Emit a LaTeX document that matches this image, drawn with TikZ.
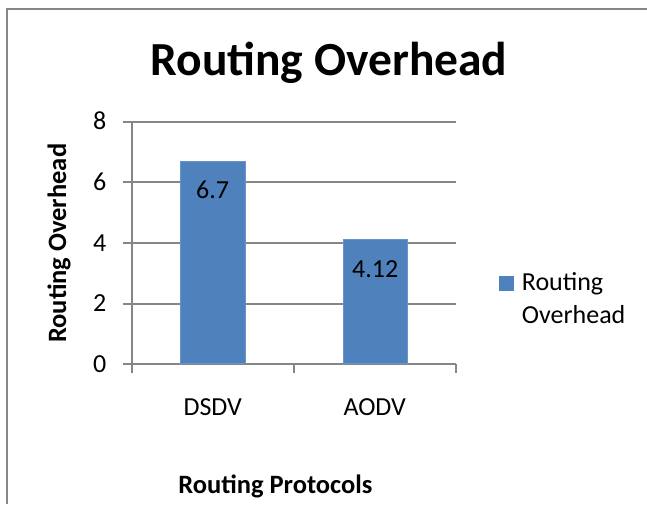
\documentclass[tikz,border=0pt]{standalone}
\usepackage{fontspec}
\setmainfont{Carlito}
\usepackage{xcolor}
\definecolor{barblue}{HTML}{4F81BD}
\definecolor{gridgray}{HTML}{868686}
\definecolor{framegray}{HTML}{878787}

\begin{document}
\begin{tikzpicture}[x=1pt,y=-1pt]
    \tikzstyle{gridline} = [draw=gridgray,line width=2pt]
    \tikzstyle{barbox} = [fill=barblue,draw=barblue!85!white,line width=1pt]
    \tikzstyle{lab} = [inner sep=0pt,font=\fontsize{26}{31}\selectfont]
    \tikzstyle{ttl} = [inner sep=0pt,font=\bfseries\fontsize{26.5}{32}\selectfont]
    \useasboundingbox (0,0) rectangle (647,504);
    % chart frame
    \draw [framegray,line width=2.5pt] (7,504) -- (7,9) -- (647,9);
    \node [inner sep=0pt,anchor=base,font=\bfseries\fontsize{47.5}{57}\selectfont] (title) at (329,75) {Routing Overhead};
    % grid and ticks
    \foreach \v in {2,4,6,8}
      \draw [gridline] (122.7,{364.3-30.33*\v}) -- (455.7,{364.3-30.33*\v});
    \foreach \v in {0,2,4,6,8}
      \node [lab,anchor=base east] (t\v) at (106.5,{364.3-30.33*\v+8.2}) {\v};
    \draw [gridline] (131.7,121.7) -- (131.7,372.7);
    \draw [gridline] (122.7,364.3) -- (455.7,364.3);
    \foreach \x in {293.7,455.7}
      \draw [gridline] (\x,364.3) -- (\x,372.7);
    % bars
    \draw [barbox] (180.7,363.3) rectangle (245,{364.3-30.33*6.7});
    \draw [barbox] (343.3,363.3) rectangle (407.7,{364.3-30.33*4.12});
    \node [lab,anchor=base] (d1) at (212.7,198.3) {6.7};
    \node [lab,anchor=base] (d2) at (375.2,277.3) {4.12};
    \node [lab,anchor=base] (c1) at (212.7,415) {DSDV};
    \node [lab,anchor=base] (c2) at (374.7,415) {AODV};
    % axis titles
    \node [ttl,rotate=90] (ytitle) at (59,243.3) {Routing Overhead};
    \node [ttl,anchor=base] (xtitle) at (275.4,493.3) {Routing Protocols};
    % legend
    \node [fill=barblue,inner sep=0pt,minimum size=14.5pt] (key) at (506.7,283.7) {};
    \node [lab,anchor=base west] (leg1) at (521.7,290) {Routing};
    \node [lab,anchor=base west] (leg2) at (521.7,323.3) {Overhead};
\end{tikzpicture}
\end{document}
